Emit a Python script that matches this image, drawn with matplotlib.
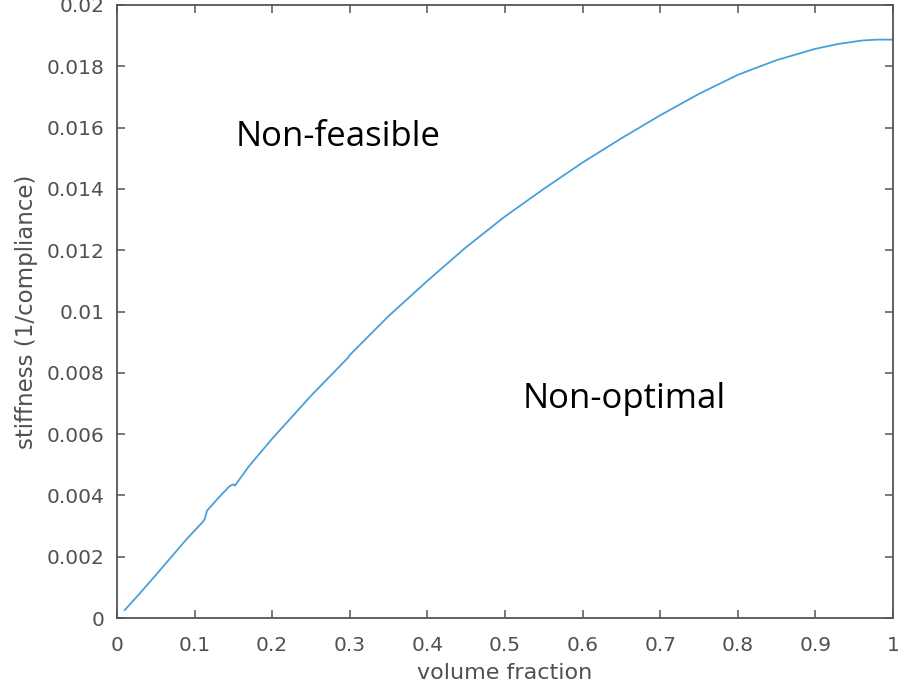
import numpy as np
import matplotlib.pyplot as plt

# values
volume_fraction = [0.01, 0.03, 0.05, 0.07, 0.09, 0.11, 0.113, 0.116, 0.13, 0.145, 0.15, 0.152,
                   0.17, 0.2, 0.25, 0.298, 0.3, 0.35, 0.4, 0.45, 0.5, 0.55, 0.6, 0.65,
                   0.7, 0.75, 0.8, 0.85, 0.9, 0.93, 0.96, 0.98, 1.0]
stiffness = [0.00026, 0.00082, 0.00140, 0.00199, 0.00258, 0.00312, 0.00322, 0.00350, 0.00390, 0.00430, 0.00436, 0.00432,
             0.00495, 0.00585, 0.00725, 0.00850, 0.00858, 0.00985, 0.01100, 0.01210, 0.01310, 0.01400, 0.01486, 0.01565,
             0.01640, 0.01710, 0.01772, 0.01820, 0.01857, 0.01873, 0.01884, 0.01887, 0.01887]

xticks = np.arange(0, 1.01, 0.1)
yticks = np.arange(0, 0.0201, 0.002)
xticklabels = ['0', '0.1', '0.2', '0.3', '0.4', '0.5', '0.6', '0.7', '0.8', '0.9', '1']
yticklabels = ['0', '0.002', '0.004', '0.006', '0.008', '0.01', '0.012', '0.014', '0.016', '0.018', '0.02']

plt.rcParams['font.family'] = ['DejaVu Sans']

fig = plt.figure(figsize=(8.99, 7), dpi=100)
ax = fig.add_axes([0.1301, 0.1171, 0.8632, 0.8758])

ax.plot(volume_fraction, stiffness, color='#4a9fdb', lw=1.3)

ax.set_xlim(0, 1)
ax.set_ylim(0, 0.02)
ax.set_xticks(xticks)
ax.set_xticklabels(xticklabels)
ax.set_yticks(yticks)
ax.set_yticklabels(yticklabels)

grey = '#505050'
for s in ax.spines.values():
    s.set_color('#555555')
    s.set_linewidth(1.3)
ax.tick_params(direction='in', length=6, width=1.1, color='#555555',
               top=True, right=True, labelsize=14.5, labelcolor=grey)
ax.tick_params(axis='x', pad=13)
ax.tick_params(axis='y', pad=9)

ax.set_xlabel('volume fraction', fontsize=16, color=grey, labelpad=6)
ax.set_ylabel('stiffness (1/compliance)', fontsize=16.5, color=grey, labelpad=6)

ax.text(0.2854, 0.0154, 'Non-feasible', fontsize=25, family=['Open Sans', 'DejaVu Sans'],
        ha='center', va='baseline', color='black')
ax.text(0.654, 0.00685, 'Non-optimal', fontsize=25, family=['Open Sans', 'DejaVu Sans'],
        ha='center', va='baseline', color='black')

fig.savefig('out.png', dpi=100)
